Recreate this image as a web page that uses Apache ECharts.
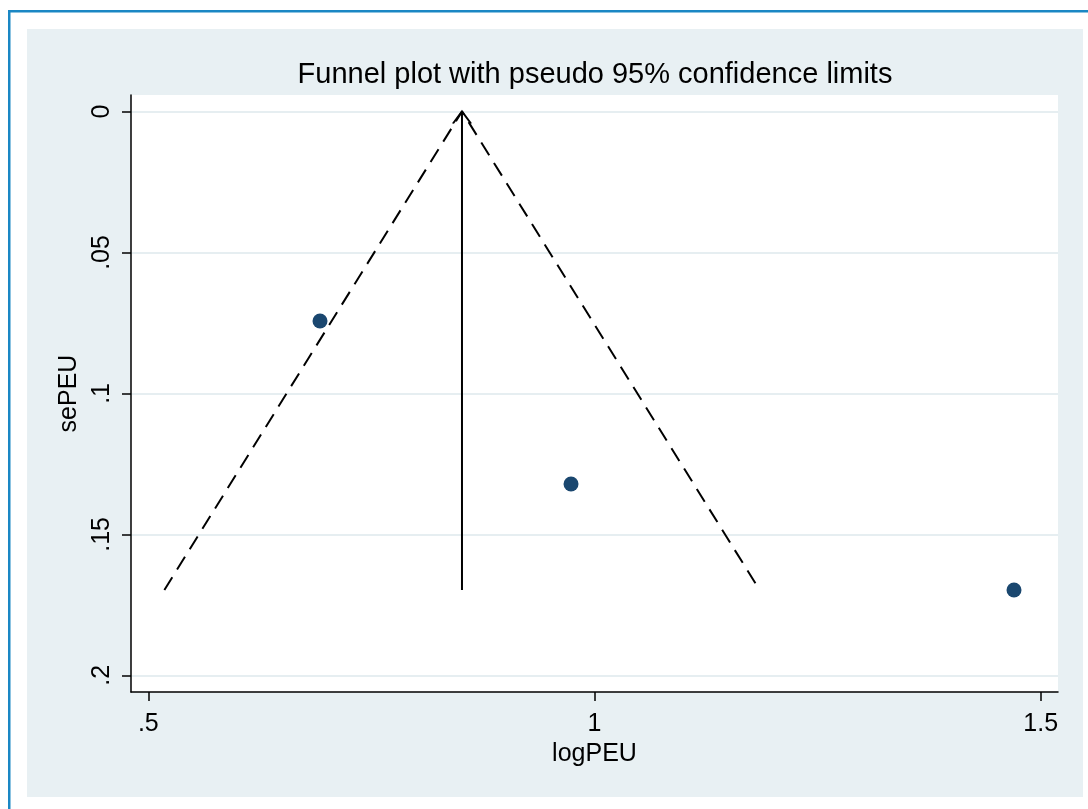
<!DOCTYPE html>
<html><head><meta charset="utf-8">
<script src="https://cdn.jsdelivr.net/npm/echarts@6/dist/echarts.min.js"></script>
<style>html,body{margin:0;padding:0;background:#fff}#c{width:1088px;height:809px}</style>
</head><body><div id="c"></div>
<script>
// Study estimates
const studyLogPEU = [0.6924, 0.9737, 1.4701];
const studySePEU = [0.0743, 0.1321, 0.1697];
// Funnel (pooled estimate and pseudo 95% limits at the largest se)
const pooledLogPEU = 0.8515;
const funnelBaseSe = 0.1697;
const funnelLowerEnd = 0.518;
const funnelUpperEnd = 1.185;
// Axis ticks
const xTickValues = [0.5, 1, 1.5];
const xTickLabels = ['.5', '1', '1.5'];
const yTickValues = [0, 0.05, 0.1, 0.15, 0.2];
const yTickLabels = ['0', '.05', '.1', '.15', '.2'];

const FONT = '"Liberation Sans", Arial, sans-serif';
const chart = echarts.init(document.getElementById('c'), null, {renderer: 'canvas'});

function labelFor(values, labels) {
  return function (v) {
    for (let i = 0; i < values.length; i++) if (Math.abs(values[i] - v) < 1e-9) return labels[i];
    return '';
  };
}

const points = studyLogPEU.map((x, i) => [x, studySePEU[i]]);

chart.setOption({
  animation: false,
  backgroundColor: '#ffffff',
  graphic: [
    {type: 'rect', z: -10, silent: true, shape: {x: 27, y: 29, width: 1056, height: 768}, style: {fill: '#e8f0f3'}},
    {type: 'rect', z: -9, silent: true, shape: {x: 8, y: 10, width: 1080, height: 2.5}, style: {fill: '#1a87c4'}},
    {type: 'rect', z: -9, silent: true, shape: {x: 8, y: 10, width: 2.5, height: 799}, style: {fill: '#1a87c4'}}
  ],
  title: {
    text: 'Funnel plot with pseudo 95% confidence limits',
    left: 590, top: 55, textAlign: 'center',
    textStyle: {fontFamily: FONT, fontSize: 29, fontWeight: 'normal', color: '#000'}
  },
  grid: {left: 131, right: 30, top: 95, bottom: 117, show: true, backgroundColor: '#ffffff', borderWidth: 0, outerBoundsMode: 'none'},
  xAxis: {
    type: 'value', min: 0.4806, max: 1.5194,
    name: 'logPEU', nameLocation: 'middle', nameGap: 45,
    nameTextStyle: {fontFamily: FONT, fontSize: 25, color: '#000'},
    axisLine: {show: true, onZero: false, lineStyle: {color: '#000', width: 1.5}},
    axisTick: {show: true, length: 9, customValues: xTickValues, lineStyle: {color: '#000', width: 1.5}},
    axisLabel: {customValues: xTickValues, formatter: labelFor(xTickValues, xTickLabels), margin: 20, fontFamily: FONT, fontSize: 25, color: '#000'},
    splitLine: {show: false}
  },
  yAxis: {
    type: 'value', inverse: true, min: -0.00585, max: 0.2059,
    name: 'sePEU', nameLocation: 'middle', nameGap: 40, nameRotate: 90,
    nameTextStyle: {fontFamily: FONT, fontSize: 25, color: '#000'},
    axisLine: {show: true, onZero: false, lineStyle: {color: '#000', width: 1.5}},
    axisTick: {show: true, length: 9, customValues: yTickValues, lineStyle: {color: '#000', width: 1.5}},
    axisLabel: {customValues: yTickValues, formatter: labelFor(yTickValues, yTickLabels), rotate: 90, margin: 16, fontFamily: FONT, fontSize: 25, color: '#000'},
    splitLine: {show: true, lineStyle: {color: '#e6eef1', width: 2}}
  },
  series: [
    {
      name: 'pseudo 95% limits', type: 'line', symbol: 'none', silent: true,
      data: [[funnelLowerEnd, funnelBaseSe], [pooledLogPEU, 0], [funnelUpperEnd, funnelBaseSe]],
      lineStyle: {color: '#000', width: 2, type: [15, 9]}
    },
    {
      name: 'pooled', type: 'line', silent: true, showSymbol: true, symbol: 'none',
      data: [
        [pooledLogPEU, funnelBaseSe],
        {value: [pooledLogPEU, 0], symbol: 'path://M0,12L9,0L18,12', symbolSize: [18, 12], symbolOffset: [0, 6],
         itemStyle: {color: 'none', borderColor: '#000', borderWidth: 1.8}}
      ],
      lineStyle: {color: '#000', width: 2}
    },
    {
      name: 'studies', type: 'scatter', symbol: 'circle', symbolSize: 15,
      data: points, itemStyle: {color: '#1a476f', opacity: 1}
    }
  ]
});
</script></body></html>
